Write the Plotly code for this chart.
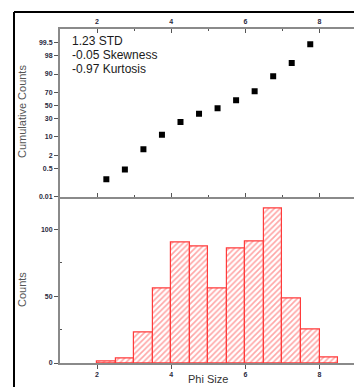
import plotly.graph_objects as go
from statistics import NormalDist

# ---- data ----
bin_left = [2.0, 2.5, 3.0, 3.5, 4.0, 4.5, 5.0, 5.5, 6.0, 6.5, 7.0, 7.5, 8.0]
counts = [1, 3, 23, 56, 90, 87, 56, 86, 91, 116, 48, 25, 4]
bin_width = 0.5

cum_x = [2.25, 2.75, 3.25, 3.75, 4.25, 4.75, 5.25, 5.75, 6.25, 6.75, 7.25, 7.75]
cum_pct = [0.13, 0.45, 3.7, 11.5, 24.8, 36.5, 45.5, 58.3, 71.8, 88.4, 95.8, 99.38]

prob_ticks = [0.01, 0.5, 2, 10, 30, 50, 70, 90, 98, 99.5]
prob_ticktext = ["0.01", "0.5", "2", "10", "30", "50", "70", "90", "98", "99.5"]
stats_text = ["1.23 STD", "-0.05 Skewness", "-0.97 Kurtosis"]

nd = NormalDist()
def z(p):
    return nd.inv_cdf(p / 100.0)

cum_z = [z(p) for p in cum_pct]
tick_z = [z(p) for p in prob_ticks]
bin_center = [b + bin_width / 2 for b in bin_left]

TICKFONT = dict(family="Liberation Sans", size=7, color="#2a2a40", weight="bold")
AXCOL = "#8a8a8a"

fig = go.Figure()

fig.add_trace(go.Scatter(
    x=cum_x, y=cum_z, mode="markers",
    marker=dict(symbol="square", size=6, color="black"),
    xaxis="x", yaxis="y", showlegend=False,
))

fig.add_trace(go.Bar(
    x=bin_center, y=counts, width=bin_width,
    marker=dict(
        color="white",
        line=dict(color="#ff3b3b", width=1.2),
        pattern=dict(shape="/", fgcolor="#ff4d4d", bgcolor="white", size=4, solidity=0.4),
    ),
    xaxis="x2", yaxis="y2", showlegend=False,
))

split = 0.4985
xr = [1.0, 8.93]

fig.update_layout(
    width=354, height=387,
    margin=dict(l=60, r=0, t=29, b=24),
    paper_bgcolor="white", plot_bgcolor="white",
    bargap=0,
    xaxis=dict(
        domain=[0, 1], range=xr, anchor="y", side="top",
        tickvals=[2, 4, 6, 8], ticktext=["2", "4", "6", "8"],
        ticks="inside", ticklen=4, tickwidth=1, tickcolor="#555",
        minor=dict(tickvals=[3, 5, 7], ticks="inside", ticklen=2, tickcolor="#555"),
        showline=True, linecolor=AXCOL, linewidth=2, mirror="ticks",
        showgrid=False, zeroline=False, tickfont=TICKFONT,
    ),
    yaxis=dict(
        domain=[split, 1], range=[z(0.01), 3.12], anchor="x",
        tickvals=tick_z, ticktext=prob_ticktext,
        ticks="outside", ticklen=4, tickwidth=1, tickcolor="#555",
        showline=True, linecolor=AXCOL, linewidth=2,
        showgrid=False, zeroline=False, tickfont=TICKFONT,
    ),
    xaxis2=dict(
        domain=[0, 1], range=xr, anchor="y2", side="bottom",
        tickvals=[2, 4, 6, 8], ticktext=["2", "4", "6", "8"],
        ticks="outside", ticklen=4, tickwidth=1, tickcolor="#555",
        showline=True, linecolor=AXCOL, linewidth=2,
        showgrid=False, zeroline=False, tickfont=TICKFONT,
    ),
    yaxis2=dict(
        domain=[0, split], range=[0, 124.7], anchor="x2",
        tickvals=[0, 50, 100], ticktext=["0", "50", "100"],
        ticks="outside", ticklen=4, tickwidth=1, tickcolor="#555",
        minor=dict(tickvals=[25, 75], ticks="inside", ticklen=2, tickcolor="#555"),
        showline=True, linecolor=AXCOL, linewidth=2,
        showgrid=False, zeroline=False, tickfont=TICKFONT,
    ),
)

# stats text in upper panel
for i, t in enumerate(stats_text):
    fig.add_annotation(
        text=t, xref="paper", yref="paper", x=(70 - 60) / 294, y=(363 - (41 + 14 * i)) / 334,
        xanchor="left", yanchor="middle", showarrow=False,
        font=dict(family="Liberation Sans", size=12, color="#1a1a1a"),
    )

# axis titles
fig.add_annotation(text="Cumulative Counts", xref="paper", yref="paper",
                   x=(22 - 60) / 294, y=(363 - 112) / 334, textangle=-90,
                   xanchor="center", yanchor="middle", showarrow=False,
                   font=dict(family="Liberation Sans", size=11, color="#555"))
fig.add_annotation(text="Counts", xref="paper", yref="paper",
                   x=(22 - 60) / 294, y=(363 - 290) / 334, textangle=-90,
                   xanchor="center", yanchor="middle", showarrow=False,
                   font=dict(family="Liberation Sans", size=11, color="#555"))
fig.add_annotation(text="Phi Size", xref="paper", yref="paper",
                   x=(208 - 60) / 294, y=(363 - 387) / 334,
                   xanchor="center", yanchor="bottom", showarrow=False,
                   font=dict(family="Liberation Sans", size=11, color="#333"))

# black frame (left and top)
fig.add_shape(type="line", xref="paper", yref="paper",
              x0=(14 - 60) / 294, x1=(14 - 60) / 294, y0=(363 - 12) / 334, y1=(363 - 400) / 334,
              line=dict(color="black", width=2))
fig.add_shape(type="line", xref="paper", yref="paper",
              x0=(14 - 60) / 294, x1=1.05, y0=(363 - 12) / 334, y1=(363 - 12) / 334,
              line=dict(color="black", width=2))

fig.write_html("out.html")
